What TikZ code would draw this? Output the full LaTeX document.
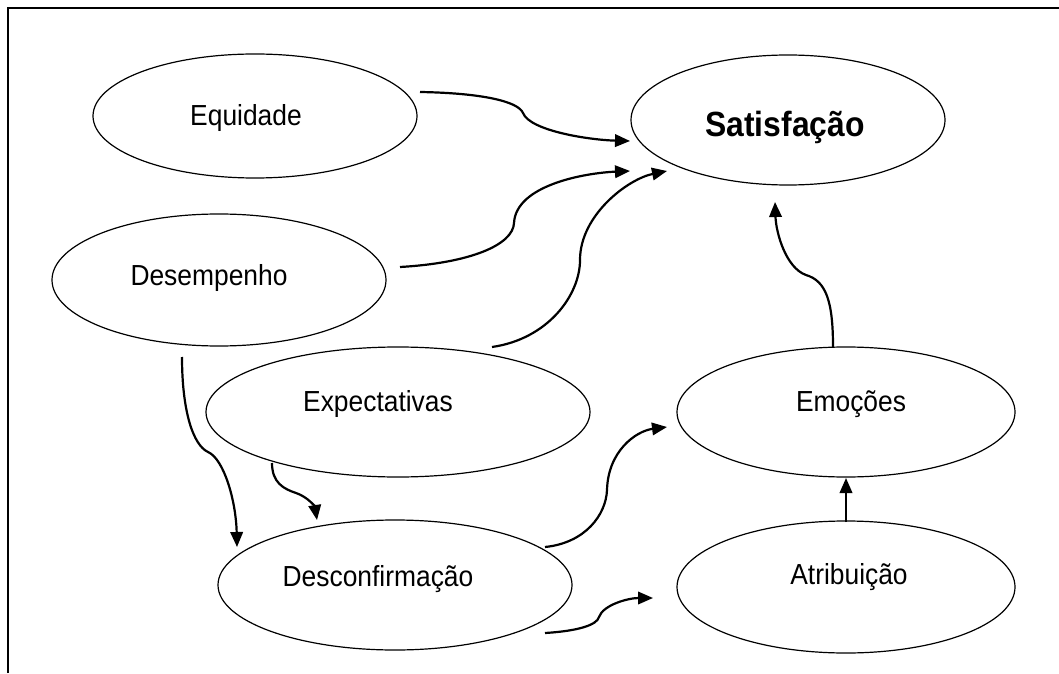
\documentclass[tikz,border=0pt]{standalone}
\usepackage{fontspec}
\setmainfont{Liberation Sans}
\newfontfamily\condfont{Liberation Sans}[FakeStretch=0.91]
\usetikzlibrary{arrows.meta,shapes.geometric}
\tikzset{
  bub/.style={draw=black, ellipse, line width=1.2pt, inner sep=0pt},
  lbl/.style={anchor=base, inner sep=0pt, font=\condfont\fontsize{29pt}{34pt}\selectfont},
  lblb/.style={anchor=base, inner sep=0pt, font=\condfont\fontsize{35pt}{40pt}\selectfont\bfseries},
  arr/.style={line width=2.2pt, -{Triangle[length=15pt,width=12.5pt]}},
  frame/.style={line width=1.3pt}
}
\begin{document}
\begin{tikzpicture}[x=1pt,y=1pt]
\useasboundingbox (0,0) rectangle (1059,673);
% partial frame
\coordinate (fa) at (8,0);
\coordinate (fb) at (8,665);
\coordinate (fc) at (1059,665);
\draw[frame] (fa) -- (fb) -- (fc);
% ellipses
\node[bub, minimum width=324pt, minimum height=124pt] (equ) at (255,557) {};
\node[bub, minimum width=314pt, minimum height=130pt] (sat) at (788,553) {};
\node[bub, minimum width=334pt, minimum height=132pt] (des) at (219,393) {};
\node[bub, minimum width=384pt, minimum height=130pt] (exp) at (398,261) {};
\node[bub, minimum width=338pt, minimum height=130pt] (emo) at (846,261) {};
\node[bub, minimum width=354pt, minimum height=130pt] (dsc) at (395,88) {};
\node[bub, minimum width=338pt, minimum height=132pt] (atr) at (846,86) {};
% labels
\node[lbl] (equT) at (246,547) {Equidade};
\node[lblb] (satT) at (785,536) {Satisfação};
\node[lbl] (desT) at (209,388) {Desempenho};
\node[lbl] (expT) at (378,262) {Expectativas};
\node[lbl] (emoT) at (851,262) {Emoções};
\node[lbl] (dscT) at (378,87) {Desconfirmação};
\node[lbl] (atrT) at (849,89) {Atribuição};
% connector end points
\coordinate (s1) at (420,581); \coordinate (t1) at (630,532);
\coordinate (s2) at (400,406); \coordinate (t2) at (630,502);
\coordinate (s3) at (492,326); \coordinate (t3) at (667,502);
\coordinate (s4) at (833,326); \coordinate (t4) at (775,471);
\coordinate (s5) at (846,151); \coordinate (t5) at (846,195);
\coordinate (s6) at (545,126); \coordinate (t6) at (667,246);
\coordinate (s7) at (545,40);  \coordinate (t7) at (653,75);
\coordinate (s8) at (182,316); \coordinate (t8) at (237,126);
\coordinate (s9) at (272,210); \coordinate (t9) at (317,153);
% connectors
\draw[arr] (s1) .. controls (480,580) and (518,572) .. (523,560)
  .. controls (530,542) and (590,533) .. (t1);
\draw[arr] (s2) .. controls (470,410) and (513,428) .. (514,450)
  .. controls (516,488) and (585,500) .. (t2);
\draw[arr] (s3) .. controls (548,334) and (580,378) .. (580,413)
  .. controls (580,458) and (628,494) .. (t3);
\draw[arr] (s4) .. controls (833,372) and (826,392) .. (806,398)
  .. controls (786,405) and (776,440) .. (t4);
\draw[arr] (s5) -- (t5);
\draw[arr] (s6) .. controls (585,130) and (606,158) .. (607,183)
  .. controls (608,222) and (636,242) .. (t6);
\draw[arr] (s7) .. controls (578,42) and (597,48) .. (599,56)
  .. controls (603,68) and (628,75) .. (t7);
\draw[arr] (s8) .. controls (182,262) and (193,228) .. (208,221)
  .. controls (224,214) and (236,172) .. (t8);
\draw[arr] (s9) .. controls (272,190) and (284,184) .. (296,180)
  .. controls (308,176) and (315,166) .. (t9);
\end{tikzpicture}
\end{document}
